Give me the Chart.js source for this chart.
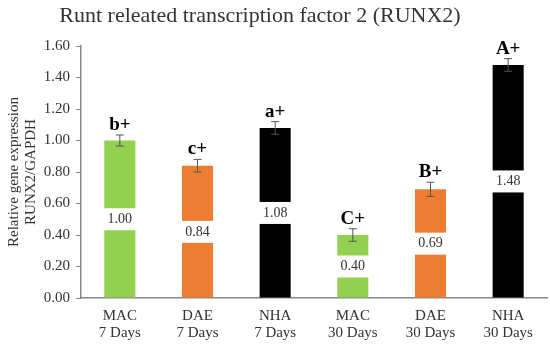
<!DOCTYPE html>
<html>
<head>
<meta charset="utf-8">
<script src="https://cdn.jsdelivr.net/npm/chart.js@4"></script>
<style>
  body { margin: 0; background: #fff; }
  #wrap { width: 550px; height: 344px; }
</style>
</head>
<body>
<div id="wrap"><canvas id="chart" width="550" height="344"></canvas></div>
<script>
// data
const groups = [['MAC', '7 Days'], ['DAE', '7 Days'], ['NHA', '7 Days'], ['MAC', '30 Days'], ['DAE', '30 Days'], ['NHA', '30 Days']];
const expression = [1.00, 0.84, 1.08, 0.40, 0.69, 1.48];
const errors = [0.035, 0.04, 0.04, 0.04, 0.045, 0.04];
const letters = ['b+', 'c+', 'a+', 'C+', 'B+', 'A+'];
const barColors = ['#92d050', '#ed7d31', '#000000', '#92d050', '#ed7d31', '#000000'];
const yTicks = [0, 0.2, 0.4, 0.6, 0.8, 1.0, 1.2, 1.4, 1.6];

const serif = '"Liberation Serif", "DejaVu Serif", serif';

// error bars, letters, value labels, titles
const extras = {
    id: 'extras',
    afterDatasetsDraw(chart) {
        const c = chart.ctx;
        const y = chart.scales.y;
        const meta = chart.getDatasetMeta(0);
        c.save();
        meta.data.forEach((bar, i) => {
            const x = bar.x;
            const w = bar.width;
            // white box with value in the middle of the bar
            const mid = y.getPixelForValue(expression[i] / 2);
            c.fillStyle = '#fff';
            c.fillRect(x - w / 2 - 1, mid - 11, w + 2, 22);
            c.fillStyle = '#333';
            c.font = '14px ' + serif;
            c.textAlign = 'center';
            c.textBaseline = 'middle';
            c.fillText(expression[i].toFixed(2), x, mid);

            // error bar
            const top = y.getPixelForValue(expression[i] + errors[i]);
            const bot = y.getPixelForValue(expression[i] - errors[i]);
            c.strokeStyle = '#555';
            c.lineWidth = 1;
            c.beginPath();
            c.moveTo(x, top); c.lineTo(x, bot);
            c.moveTo(x - 4, top); c.lineTo(x + 4, top);
            c.moveTo(x - 4, bot); c.lineTo(x + 4, bot);
            c.stroke();

            // significance letter
            c.fillStyle = '#000';
            c.font = 'bold 19px ' + serif;
            c.textBaseline = 'alphabetic';
            c.fillText(letters[i], x, top - 5);
        });

        // chart title
        c.fillStyle = '#333';
        c.font = '22px ' + serif;
        c.textAlign = 'center';
        c.textBaseline = 'middle';
        c.fillText('Runt releated transcription factor 2 (RUNX2)', 260, 16);

        // y axis title, two lines
        c.translate(22, 172);
        c.rotate(-Math.PI / 2);
        c.font = '15px ' + serif;
        c.fillText('Relative gene expression', 0, -8);
        c.fillText('RUNX2/GAPDH', 0, 9);
        c.restore();
    }
};

const ctx = document.getElementById('chart').getContext('2d');
new Chart(ctx, {
    type: 'bar',
    data: {
        labels: groups,
        datasets: [{
            data: expression,
            backgroundColor: barColors,
            barPercentage: 0.4,
            categoryPercentage: 1
        }]
    },
    options: {
        responsive: false,
        animation: false,
        layout: { padding: { top: 46, right: 3, left: 0, bottom: 0 } },
        plugins: {
            legend: { display: false },
            tooltip: { enabled: false }
        },
        scales: {
            x: {
                grid: { display: false },
                border: { color: '#888', width: 1.5 },
                ticks: {
                    color: '#333',
                    font: { family: serif, size: 15, lineHeight: 1.15 },
                    padding: 1,
                    maxRotation: 0
                },
                afterFit(scale) { scale.height = 46; }
            },
            y: {
                min: 0,
                max: 1.6,
                afterBuildTicks(scale) { scale.ticks = yTicks.map(v => ({ value: v })); },
                grid: { drawOnChartArea: false, drawTicks: true, tickLength: 5, color: '#888' },
                border: { color: '#888', width: 1.5 },
                ticks: {
                    color: '#333',
                    font: { family: serif, size: 15 },
                    padding: 6,
                    callback: v => v.toFixed(2)
                },
                afterFit(scale) { scale.width = 81; }
            }
        }
    },
    plugins: [extras]
});
</script>
</body>
</html>
